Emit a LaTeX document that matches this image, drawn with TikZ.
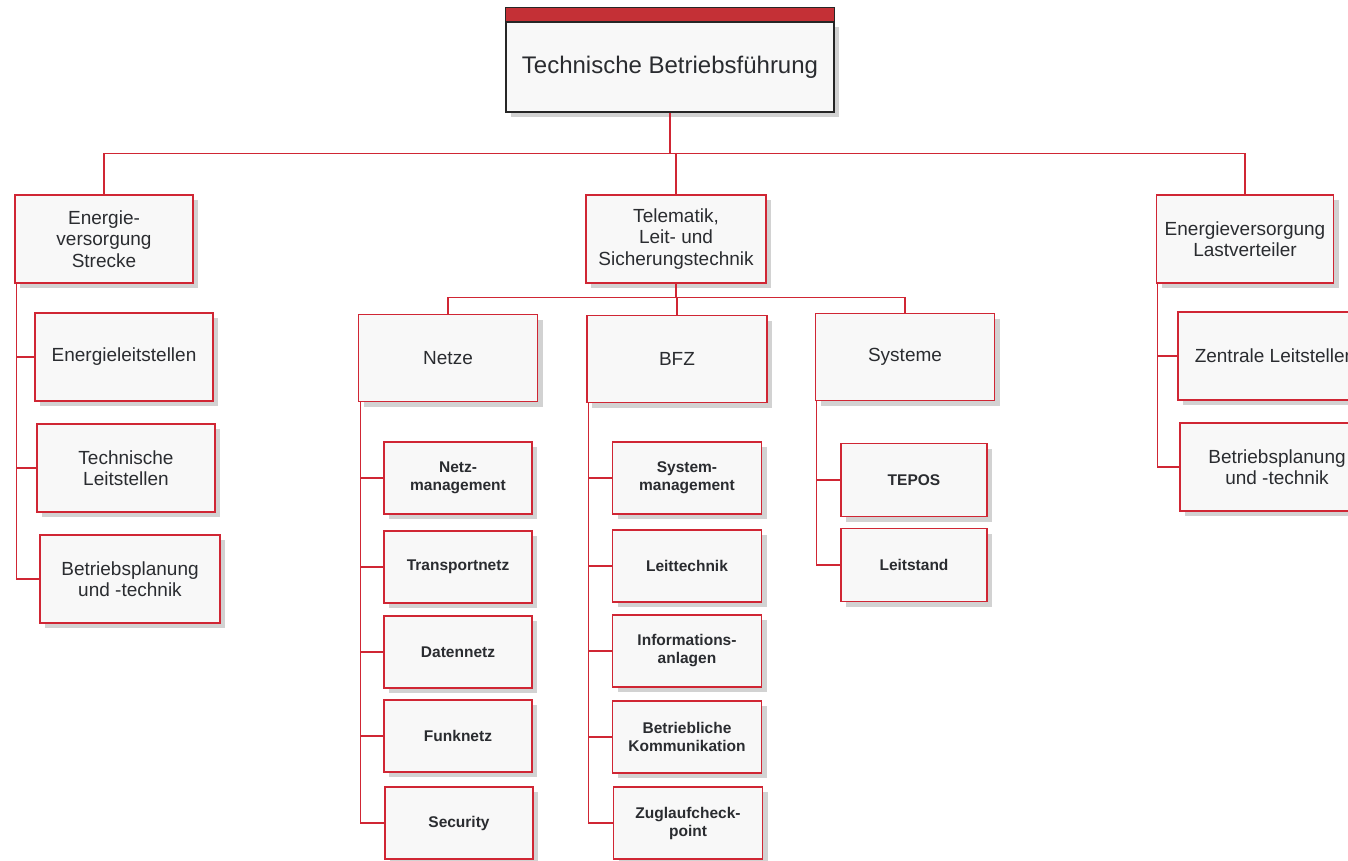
\documentclass[tikz,border=0pt]{standalone}
\usepackage{fontspec}
\setmainfont{Liberation Sans}
\usetikzlibrary{shadows}
\definecolor{linered}{RGB}{208,38,52}
\definecolor{stripred}{RGB}{196,48,54}
\definecolor{boxfill}{RGB}{248,248,248}
\definecolor{textgray}{RGB}{42,44,48}
\begin{document}
\begin{tikzpicture}[x=1pt, y=-1pt,
	box/.style={draw=linered, line width=1.4pt, fill=boxfill, text=textgray, align=center, inner sep=1pt, drop shadow={shadow xshift=5pt, shadow yshift=-5pt, fill=black!35}},
	unit/.style={box, minimum width=178pt, minimum height=88pt, font=\fontsize{19}{21.5}\selectfont},
	team/.style={box, minimum width=148pt, minimum height=72pt, font=\fontsize{15.5}{18}\selectfont\bfseries},
	link/.style={draw=linered, line width=1.3pt}]
	\useasboundingbox (0,0) rectangle (1348,861);
	\clip (0,0) rectangle (1348,861);

	% Head
	\node[box, draw=black!85, minimum width=328pt, minimum height=90pt, font=\fontsize{24}{28}\selectfont] (tbf) at (670,67) {Technische Betriebsführung};
	\filldraw[fill=stripred, draw=black!85, line width=1.4pt] (tbf.north west) rectangle ([yshift=14pt]tbf.north east);

	% Departments
	\node[unit] (evs) at (104,239) {Energie-\\versorgung\\Strecke};
	\node[unit, minimum width=180pt] (tls) at (676,239) {Telematik,\\Leit- und\\Sicherungstechnik};
	\node[unit, minimum width=177pt] (evl) at (1245,239) {Energieversorgung\\Lastverteiler};

	\draw[link] (tbf.south) -- ++(0,41) coordinate (hub);
	\draw[link] (evs.north) |- (hub) -| (evl.north);
	\draw[link] (hub) -| (tls.north);

	% Energieversorgung Strecke
	\node[unit] (el) at (124,357) {Energieleitstellen};
	\node[unit] (tl) at (126,468) {Technische\\Leitstellen};
	\node[unit, minimum width=180pt] (bps) at (130,579) {Betriebsplanung\\und -technik};
	\foreach \c in {el,tl,bps}
		\draw[link] ([xshift=2pt]evs.south west) |- (\c.west);

	% Energieversorgung Lastverteiler
	\node[unit, minimum width=194pt] (zl) at (1275,356) {Zentrale Leitstellen};
	\node[unit, minimum width=194pt] (bpl) at (1277,467) {Betriebsplanung\\und -technik};
	\foreach \c in {zl,bpl}
		\draw[link] ([xshift=2pt]evl.south west) |- (\c.west);

	% Telematik groups
	\node[unit, minimum height=87pt, minimum width=179pt] (netze) at (448,358) {Netze};
	\node[unit, minimum height=87pt, minimum width=180pt] (bfz) at (677,359) {BFZ};
	\node[unit, minimum height=87pt, minimum width=179pt] (sys) at (905,357) {Systeme};

	\draw[link] (tls.south) -- ++(0,14) coordinate (tbus);
	\draw[link] (netze.north) |- (tbus) -| (sys.north);
	\draw[link] (tbus) -| (bfz.north);

	% Netze
	\node[team] (nm) at (458,478) {Netz-\\management};
	\node[team] (tn) at (458,567) {Transportnetz};
	\node[team] (dn) at (458,652) {Datennetz};
	\node[team] (fn) at (458,736) {Funknetz};
	\node[team] (sec) at (459,823) {Security};
	\foreach \c in {nm,tn,dn,fn,sec}
		\draw[link] ([xshift=3pt]netze.south west) |- (\c.west);

	% BFZ
	\node[team, minimum width=149pt] (sm) at (687,478) {System-\\management};
	\node[team, minimum width=149pt] (lt) at (687,566) {Leittechnik};
	\node[team, minimum width=149pt] (ia) at (687,651) {Informations-\\anlagen};
	\node[team, minimum width=149pt] (bk) at (687,737) {Betriebliche\\Kommunikation};
	\node[team, minimum width=149pt] (zc) at (688,823) {Zuglaufcheck-\\point};
	\foreach \c in {sm,lt,ia,bk,zc}
		\draw[link] ([xshift=2pt]bfz.south west) |- (\c.west);

	% Systeme
	\node[team, minimum width=146pt, minimum height=73pt] (tepos) at (914,480) {TEPOS};
	\node[team, minimum width=146pt, minimum height=73pt] (lst) at (914,565) {Leitstand};
	\foreach \c in {tepos,lst}
		\draw[link] ([xshift=2pt]sys.south west) |- (\c.west);
\end{tikzpicture}
\end{document}
